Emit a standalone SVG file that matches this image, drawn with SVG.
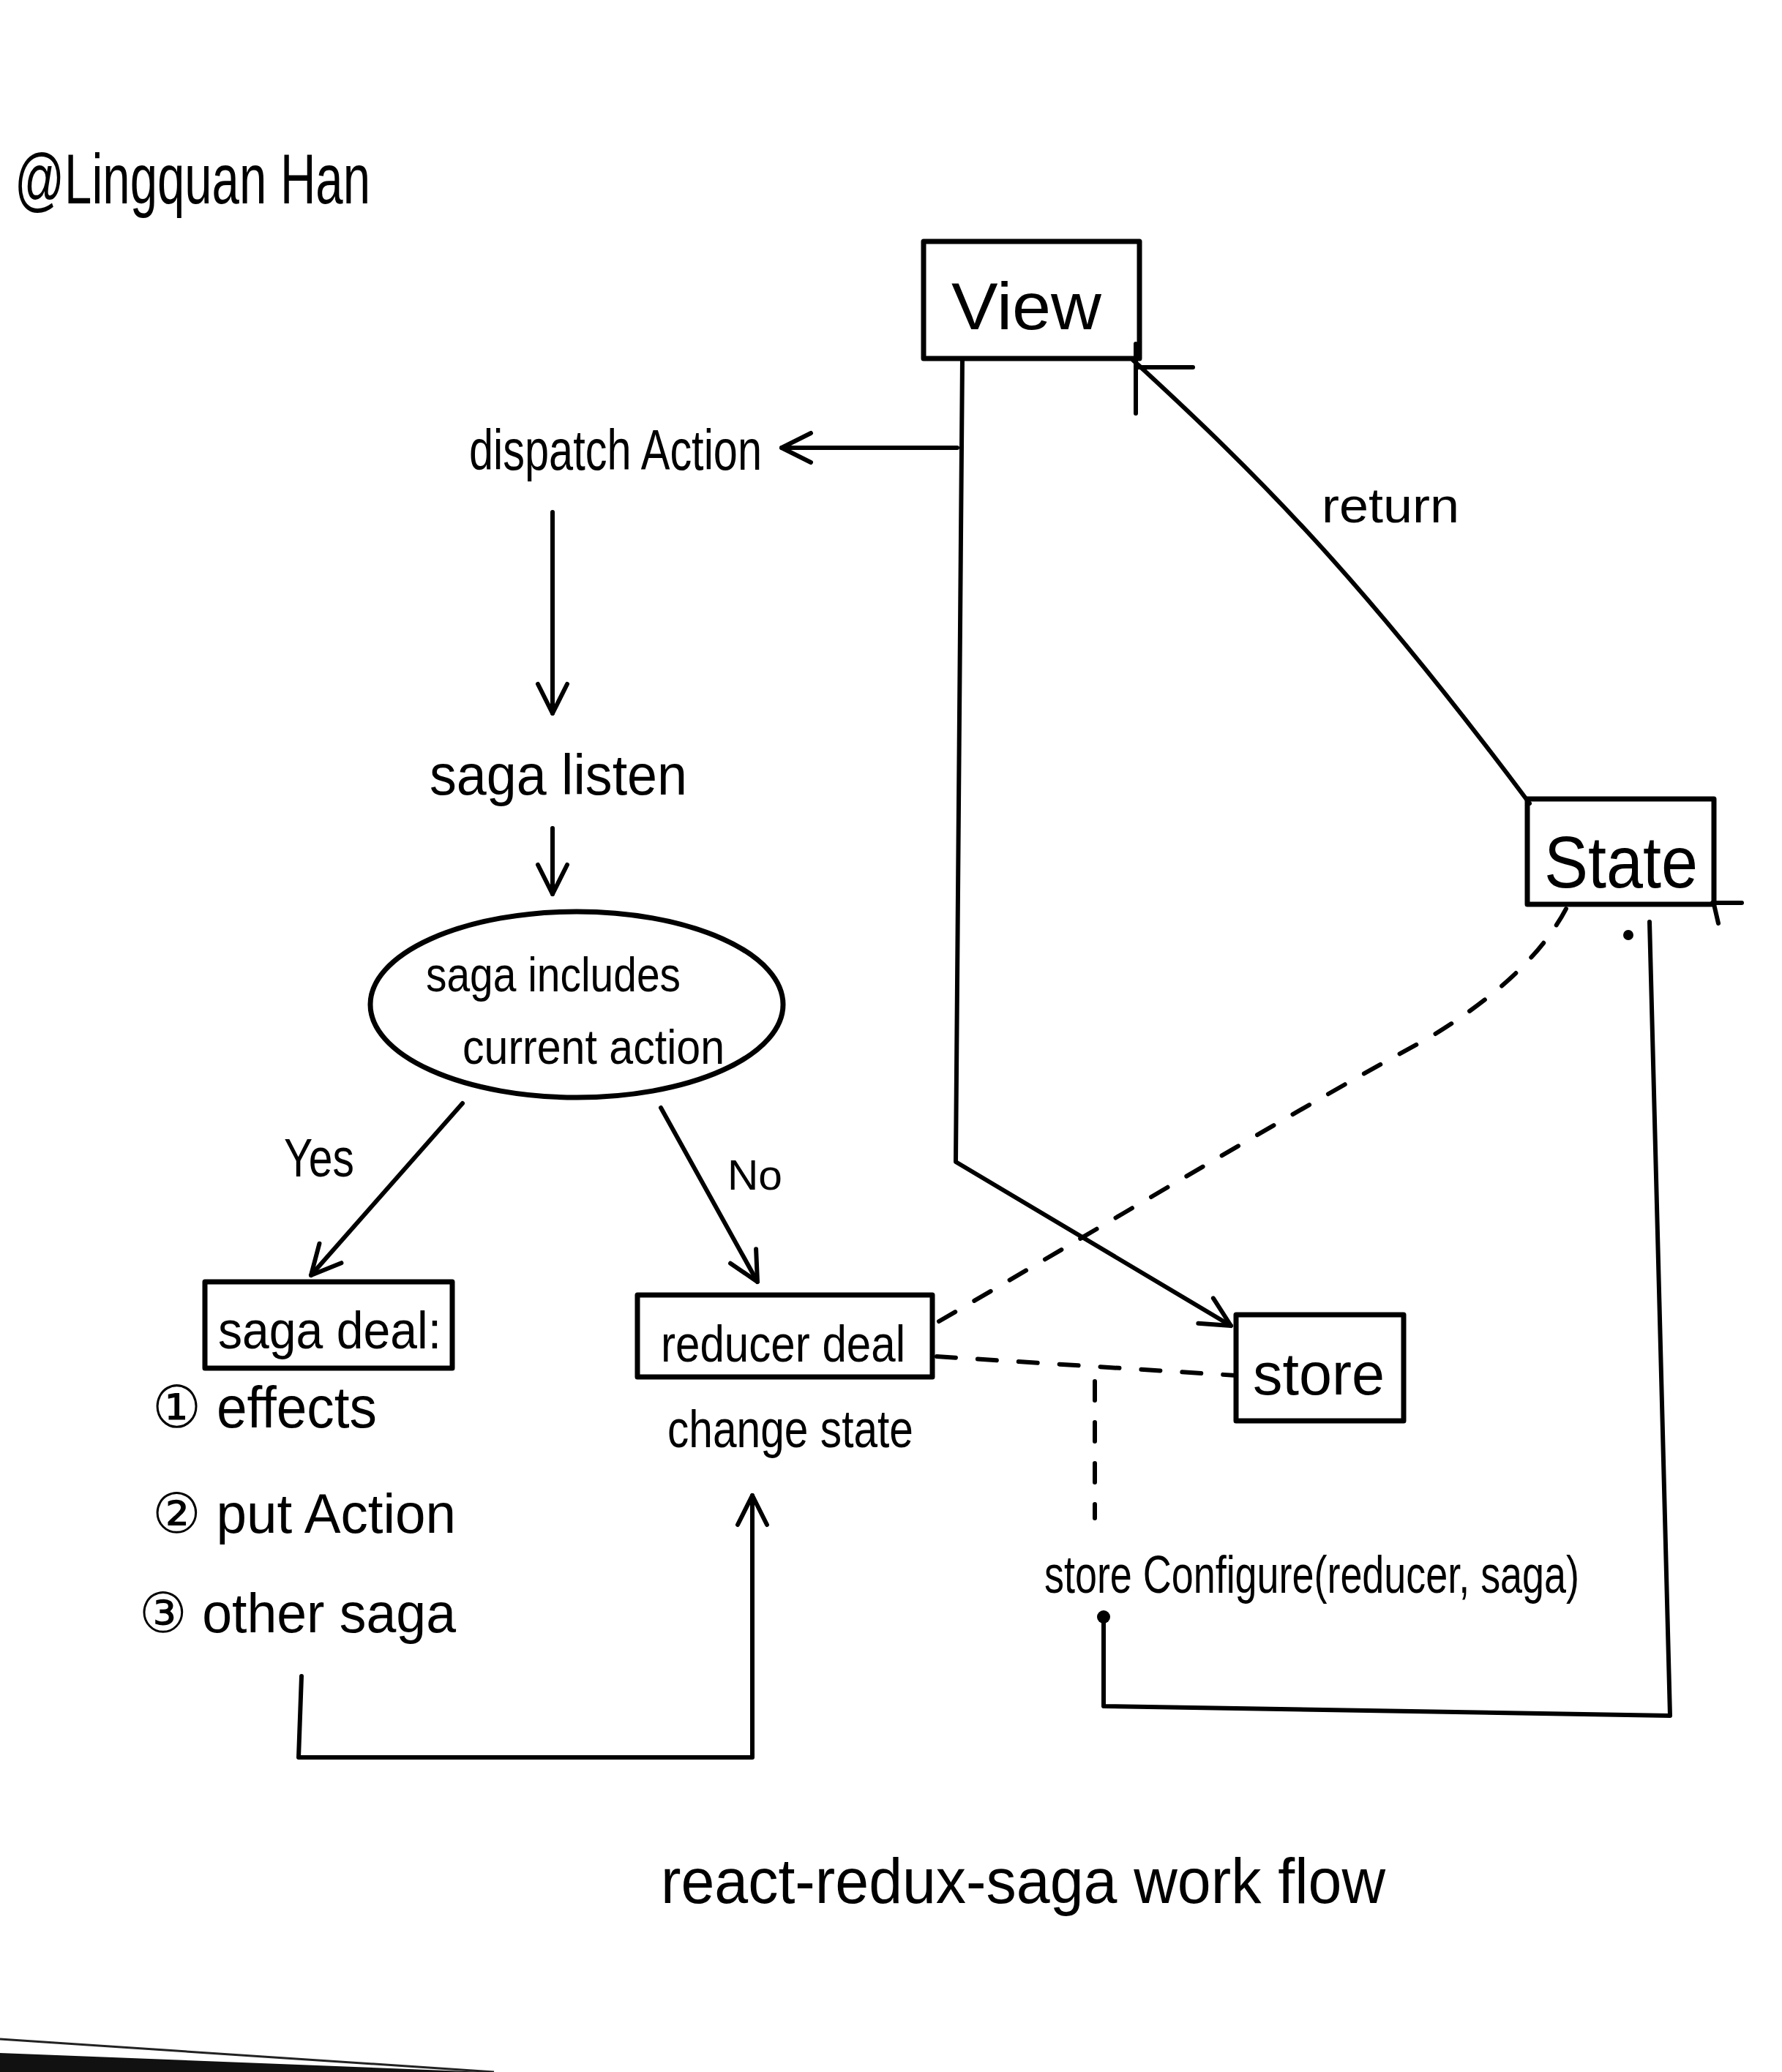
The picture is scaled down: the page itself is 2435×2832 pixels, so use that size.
<svg xmlns="http://www.w3.org/2000/svg" width="2435" height="2832" viewBox="0 0 2435 2832">
<style>
.box{fill:none;stroke:#000;stroke-width:7;stroke-linejoin:round}
.ln{fill:none;stroke:#000;stroke-width:6;stroke-linecap:round;stroke-linejoin:round}
.dash{fill:none;stroke:#000;stroke-width:6;stroke-linecap:round;stroke-dasharray:26 30}
.t{font-family:"Liberation Sans","DejaVu Sans",sans-serif;fill:#000}
</style>
<defs>
<marker id="ah" viewBox="0 0 48 48" refX="44" refY="24" markerWidth="48" markerHeight="48" markerUnits="userSpaceOnUse" orient="auto">
<path d="M4,4 L44,24 L4,44" fill="none" stroke="#000" stroke-width="6" stroke-linecap="round" stroke-linejoin="round"/>
</marker>
</defs>
<rect width="2435" height="2832" fill="#fff"/>

<text class="t" x="20" y="278" font-size="96" textLength="486" lengthAdjust="spacingAndGlyphs">@Lingquan Han</text>

<g id="view">
<rect class="box" x="1262" y="330" width="295" height="160"/>
<text class="t" x="1300" y="450" font-size="90" textLength="205" lengthAdjust="spacingAndGlyphs">View</text>
</g>

<g id="state">
<rect class="box" x="2087" y="1092" width="255" height="144"/>
<text class="t" x="2110" y="1213" font-size="100" textLength="210" lengthAdjust="spacingAndGlyphs">State</text>
</g>

<g id="store">
<rect class="box" x="1689" y="1797" width="229" height="145"/>
<text class="t" x="1712" y="1906" font-size="82" textLength="180" lengthAdjust="spacingAndGlyphs">store</text>
</g>

<g id="saga-deal">
<rect class="box" x="280" y="1752" width="338" height="118"/>
<text class="t" x="298" y="1843" font-size="72" textLength="305" lengthAdjust="spacingAndGlyphs">saga deal:</text>
</g>

<g id="reducer-deal">
<rect class="box" x="871" y="1770" width="403" height="112"/>
<text class="t" x="903" y="1861" font-size="70" textLength="334" lengthAdjust="spacingAndGlyphs">reducer deal</text>
</g>

<g id="saga-includes">
<ellipse class="box" cx="788" cy="1373" rx="282" ry="127"/>
<text class="t" x="582" y="1355" font-size="66" textLength="348" lengthAdjust="spacingAndGlyphs">saga includes</text>
<text class="t" x="632" y="1454" font-size="66" textLength="358" lengthAdjust="spacingAndGlyphs">current action</text>
</g>

<g id="dispatch-action">
<text class="t" x="641" y="642" font-size="78" textLength="400" lengthAdjust="spacingAndGlyphs">dispatch Action</text>
</g>

<g id="saga-listen">
<text class="t" x="587" y="1086" font-size="78" textLength="352" lengthAdjust="spacingAndGlyphs">saga listen</text>
</g>

<g id="saga-deal-list">
<text class="t" x="208" y="1951" font-size="80" textLength="307" lengthAdjust="spacingAndGlyphs">① effects</text>
<text class="t" x="208" y="2095" font-size="76" textLength="415" lengthAdjust="spacingAndGlyphs">② put Action</text>
<text class="t" x="190" y="2231" font-size="76" textLength="433" lengthAdjust="spacingAndGlyphs">③ other saga</text>
</g>

<g id="change-state">
<text class="t" x="912" y="1978" font-size="72" textLength="336" lengthAdjust="spacingAndGlyphs">change state</text>
</g>

<g id="store-configure">
<text class="t" x="1427" y="2177" font-size="72" textLength="731" lengthAdjust="spacingAndGlyphs">store Configure(reducer, saga)</text>
</g>

<g id="title">
<text class="t" x="903" y="2601" font-size="88" textLength="990" lengthAdjust="spacingAndGlyphs">react-redux-saga work flow</text>
</g>

<g id="connectors">
<path class="ln" d="M1315,490 L1306,1588 L1682,1812" marker-end="url(#ah)"/>
<path class="ln" d="M1308,612 L1068,612" marker-end="url(#ah)"/>
<path class="ln" d="M1552,470 L1552,565 M1552,502 L1630,502"/>
<path class="ln" d="M1548,492 C1720,650 1860,790 2090,1098"/>
<path class="ln" d="M755,700 L755,975" marker-end="url(#ah)"/>
<path class="ln" d="M755,1132 L755,1222" marker-end="url(#ah)"/>
<path class="ln" d="M632,1508 L425,1743" marker-end="url(#ah)"/>
<path class="ln" d="M903,1514 L1035,1752" marker-end="url(#ah)"/>
<path class="ln" d="M412,2291 L408,2402 L1028,2402 L1028,2044" marker-end="url(#ah)"/>
<path class="dash" d="M1280,1854 L1689,1880"/>
<path class="dash" d="M1283,1806 C1500,1680 1800,1500 1950,1420 C2050,1360 2110,1300 2141,1240"/>
<path class="dash" d="M1496,1888 L1496,2075"/>
<path class="ln" d="M2254,1260 L2282,2345 L1508,2332 L1508,2213"/>
<path class="ln" d="M2340,1234 L2380,1234 M2342,1236 L2348,1262"/>
<circle cx="1508" cy="2210" r="9" fill="#000"/>
<circle cx="2225" cy="1278" r="7" fill="#000"/>
</g>

<text class="t" x="1806" y="714" font-size="66" textLength="188" lengthAdjust="spacingAndGlyphs">return</text>
<text class="t" x="388" y="1608" font-size="74" textLength="96" lengthAdjust="spacingAndGlyphs">Yes</text>
<text class="t" x="994" y="1626" font-size="58" textLength="75" lengthAdjust="spacingAndGlyphs">No</text>

<line x1="0" y1="2787" x2="675" y2="2832" stroke="#222" stroke-width="3"/>
<polygon points="0,2806 660,2832 0,2832" fill="#111"/>
</svg>
